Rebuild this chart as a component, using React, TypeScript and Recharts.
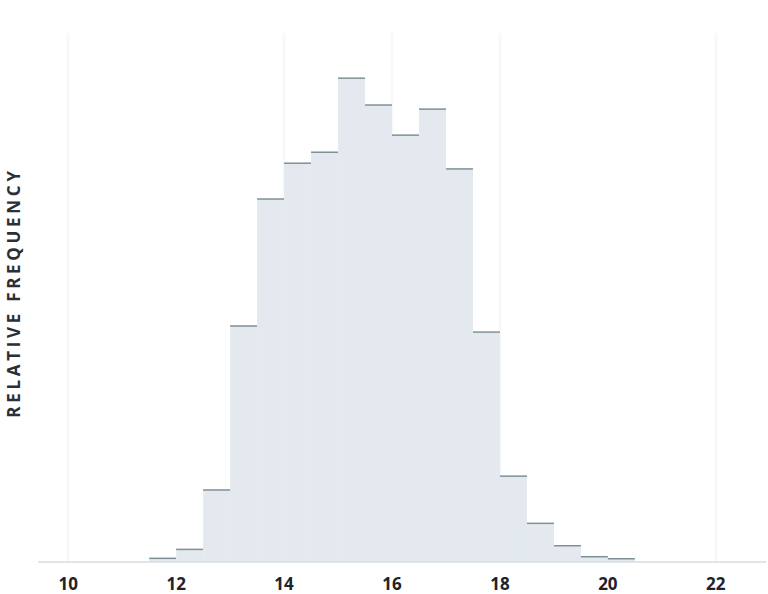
import { ComposedChart, Bar, XAxis, YAxis, CartesianGrid } from 'recharts';

// bin centers (bin width 0.5) and relative frequency in percent
const BIN_CENTERS = [11.75, 12.25, 12.75, 13.25, 13.75, 14.25, 14.75, 15.25, 15.75, 16.25, 16.75, 17.25, 17.75, 18.25, 18.75, 19.25, 19.75, 20.25];
const FREQUENCY = [0.09, 0.31, 1.77, 5.8, 8.92, 9.8, 10.07, 11.89, 11.23, 10.49, 11.13, 9.66, 5.65, 2.11, 0.95, 0.4, 0.13, 0.08];
const X_TICKS = [10, 12, 14, 16, 18, 20, 22];
const GRID_X = [10, 14, 16, 18, 22];
const X_DOMAIN: [number, number] = [9.44, 22.93];

const rows = BIN_CENTERS.map((x, i) => ({ x, freq: FREQUENCY[i] }));

const FILL = '#e3e9ef';
const EDGE = '#7d9196';
const FONT = '"Open Sans", Lato, sans-serif';

// bar body plus a thin line on the top edge only
function HistBar(props: any) {
  const { x, y, width, height } = props;
  if (!height || height <= 0) return null;
  return (
    <g>
      <rect x={x} y={y} width={width} height={height} fill={FILL} />
      <line x1={x} x2={x + width} y1={y} y2={y} stroke={EDGE} strokeWidth={1.5} />
    </g>
  );
}

// grid only at some of the tick values, placed with the axis scale when available
function gridX({ xAxis, offset }: any) {
  if (xAxis && typeof xAxis.scale === 'function') return GRID_X.map((g) => xAxis.scale(g));
  const [d0, d1] = X_DOMAIN;
  return GRID_X.map((g) => offset.left + ((g - d0) / (d1 - d0)) * offset.width);
}

export default function App() {
  return (
    <div style={{ position: 'fixed', left: 0, top: 0, background: '#fff' }}>
      <ComposedChart
        width={768}
        height={594}
        data={rows}
        margin={{ top: 33, right: 2, left: 0, bottom: 0 }}
        barCategoryGap={0}
        barGap={0}
      >
        <CartesianGrid horizontal={false} stroke="#f7f8f9" strokeWidth={3} verticalCoordinatesGenerator={gridX} />
        <XAxis
          type="number"
          dataKey="x"
          domain={X_DOMAIN}
          ticks={X_TICKS}
          allowDataOverflow
          height={32}
          axisLine={{ stroke: '#d9dcdf', strokeWidth: 1.5 }}
          tickLine={false}
          tick={{ fill: '#1f2328', fontSize: 17, fontWeight: 700, fontFamily: FONT }}
          tickMargin={10}
        />
        <YAxis
          domain={[0, 13]}
          width={38}
          axisLine={false}
          tickLine={false}
          tick={false}
          label={{
            value: 'RELATIVE FREQUENCY',
            angle: -90,
            position: 'insideLeft',
            dx: 9,
            dy: -5,
            fill: '#2b2f36',
            style: { fontSize: 17, fontWeight: 700, letterSpacing: 3.7, fontFamily: FONT, textAnchor: 'middle' },
          }}
        />
        <Bar dataKey="freq" shape={<HistBar />} isAnimationActive={false} />
      </ComposedChart>
    </div>
  );
}
